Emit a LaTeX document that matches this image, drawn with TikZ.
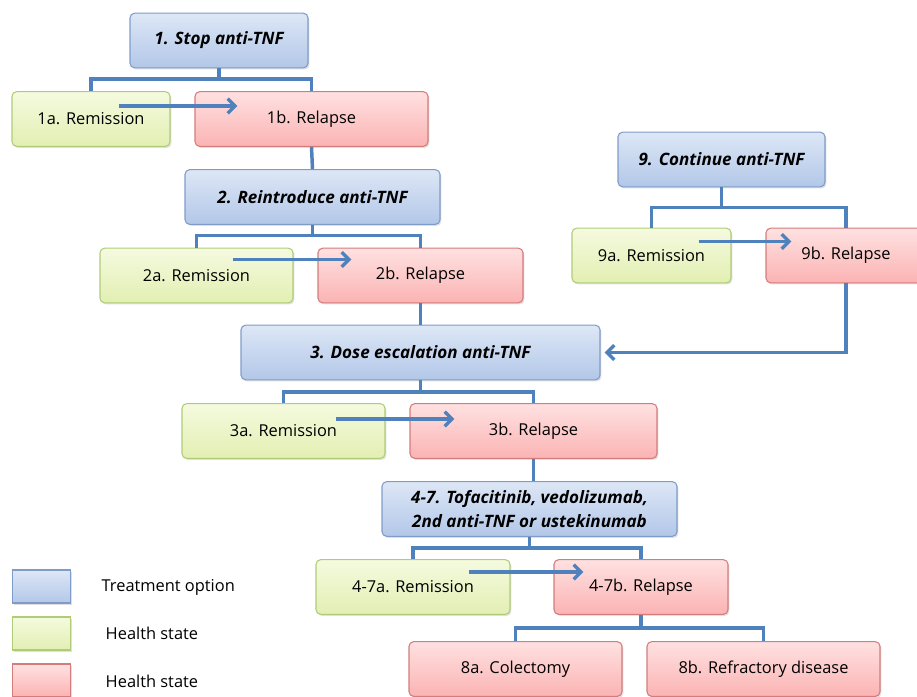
\documentclass[tikz,border=0pt]{standalone}
\usepackage{fontspec}
\setmainfont{Open Sans}
\usepackage{tikz}
\usetikzlibrary{arrows.meta,shadows}
\definecolor{treattop}{HTML}{DDE7F6}
\definecolor{treatbot}{HTML}{B2C7E8}
\definecolor{treatline}{HTML}{7F9CC9}
\definecolor{remtop}{HTML}{F5FADF}
\definecolor{rembot}{HTML}{E2EFB2}
\definecolor{remline}{HTML}{B0CC78}
\definecolor{reltop}{HTML}{FFE1E1}
\definecolor{relbot}{HTML}{FBB3B3}
\definecolor{relline}{HTML}{D47C7C}
\definecolor{linkblue}{HTML}{4F81BD}
\tikzset{
    box/.style={rectangle, rounded corners=3.5pt, minimum height=41pt, inner sep=2pt, align=center,
        font=\fontsize{12.3}{15}\selectfont, line width=0.8pt,
        drop shadow={opacity=0.25, shadow xshift=1pt, shadow yshift=-1.2pt}},
    treat/.style={box, draw=treatline, top color=treattop, bottom color=treatbot, font=\fontsize{12.8}{17.5}\selectfont\bfseries\itshape},
    remission/.style={box, draw=remline, top color=remtop, bottom color=rembot},
    relapse/.style={box, draw=relline, top color=reltop, bottom color=relbot},
    key box/.style={box, rounded corners=0pt, minimum width=44pt, minimum height=24.75pt},
    key text/.style={anchor=west, font=\fontsize{12.3}{15}\selectfont},
    branch/.style={draw=linkblue, line width=2.6pt},
    move/.style={branch, -{Straight Barb[length=5.5pt, width=11pt]}}
}

\begin{document}
\begin{tikzpicture}[x=0.75pt, y=-0.75pt]
    \useasboundingbox (0,0) rectangle (917,696);

    % Stop anti-TNF
    \node[treat, minimum width=133.5pt] (s1) at (219,40.5) {1. Stop anti-TNF};
    \node[remission, minimum width=118.5pt] (r1a) at (91,119) {1a. Remission};
    \node[relapse, minimum width=174.75pt] (r1b) at (311.5,119) {1b. Relapse};

    % Reintroduce anti-TNF
    \node[treat, minimum width=191.25pt] (s2) at (312.5,197) {2. Reintroduce anti-TNF};
    \node[remission, minimum width=144.75pt] (r2a) at (196.5,275.5) {2a. Remission};
    \node[relapse, minimum width=153.75pt] (r2b) at (420.5,275.5) {2b. Relapse};

    % Dose escalation
    \node[treat, minimum width=269.25pt] (s3) at (420.5,352.5) {3. Dose escalation anti-TNF};
    \node[remission, minimum width=152.25pt] (r3a) at (283.5,431) {3a. Remission};
    \node[relapse, minimum width=185.25pt] (r3b) at (533.5,431) {3b. Relapse};

    % Second line options
    \node[treat, minimum width=221.25pt] (s4) at (529.5,509) {4-7. Tofacitinib, vedolizumab,\\2nd anti-TNF or ustekinumab};
    \node[remission, minimum width=145.5pt] (r4a) at (413,587) {4-7a. Remission};
    \node[relapse, minimum width=130.5pt] (r4b) at (641,587) {4-7b. Relapse};
    \node[relapse, minimum width=159.75pt] (r8a) at (515.5,669) {8a. Colectomy};
    \node[relapse, minimum width=174.75pt] (r8b) at (763.5,669) {8b. Refractory disease};

    % Continue anti-TNF
    \node[treat, minimum width=155.25pt] (s9) at (721.5,159.5) {9. Continue anti-TNF};
    \node[remission, minimum width=119.25pt] (r9a) at (651.5,255.5) {9a. Remission};
    \node[relapse, minimum width=120pt] (r9b) at (846,255.5) {9b. Relapse};

    % Tree branches
    \draw[branch] (r1a.north) -- ++(0,-12) coordinate (f1) -| (r1b.north);
    \draw[branch] (s1.south) -- (s1.south |- f1);
    \draw[branch] (r1b.south) -- (s2.north);
    \draw[branch] (r2a.north) -- ++(0,-12) coordinate (f2) -| (r2b.north);
    \draw[branch] (s2.south) -- (s2.south |- f2);
    \draw[branch] (r2b.south) -- (s3.north);
    \draw[branch] (r3a.north) -- ++(0,-11) coordinate (f3) -| (r3b.north);
    \draw[branch] (s3.south) -- (s3.south |- f3);
    \draw[branch] (r3b.south) -- (s4.north -| r3b.south);
    \draw[branch] (r4a.north) -- ++(0,-11) coordinate (f4) -| (r4b.north);
    \draw[branch] (s4.south) -- (s4.south |- f4);
    \draw[branch] (r8a.north) -- ++(0,-13) coordinate (f8) -| (r8b.north);
    \draw[branch] (r4b.south) -- (r4b.south |- f8);
    \draw[branch] (r9a.north) -- ++(0,-20) coordinate (f9) -| (r9b.north);
    \draw[branch] (s9.south) -- (s9.south |- f9);

    % Remission to relapse
    \draw[move] ([shift={(-52,-13)}]r1a.east) -- ([shift={(43,-13)}]r1b.west);
    \draw[move] ([shift={(-61,-16)}]r2a.east) -- ([shift={(34,-16)}]r2b.west);
    \draw[move] ([shift={(-50,-12)}]r3a.east) -- ([shift={(45,-12)}]r3b.west);
    \draw[move] ([shift={(-42,-15)}]r4a.east) -- ([shift={(30,-15)}]r4b.west);
    \draw[move] ([shift={(-33,-14)}]r9a.east) -- ([shift={(26,-14)}]r9b.west);
    \draw[move, shorten >=3pt] (r9b.south) |- (s3.east);

    % Legend
    \node[key box, draw=treatline, top color=treattop, bottom color=treatbot] (k1) at (41.5,586.5) {};
    \node[key box, draw=remline, top color=remtop, bottom color=rembot] (k2) at (41.5,633.5) {};
    \node[key box, draw=relline, top color=reltop, bottom color=relbot] (k3) at (41.5,680.5) {};
    \node[key text] (t1) at (97,587) {Treatment option};
    \node[key text] (t2) at (101,633) {Health state};
    \node[key text] (t3) at (101,681) {Health state};
\end{tikzpicture}
\end{document}
